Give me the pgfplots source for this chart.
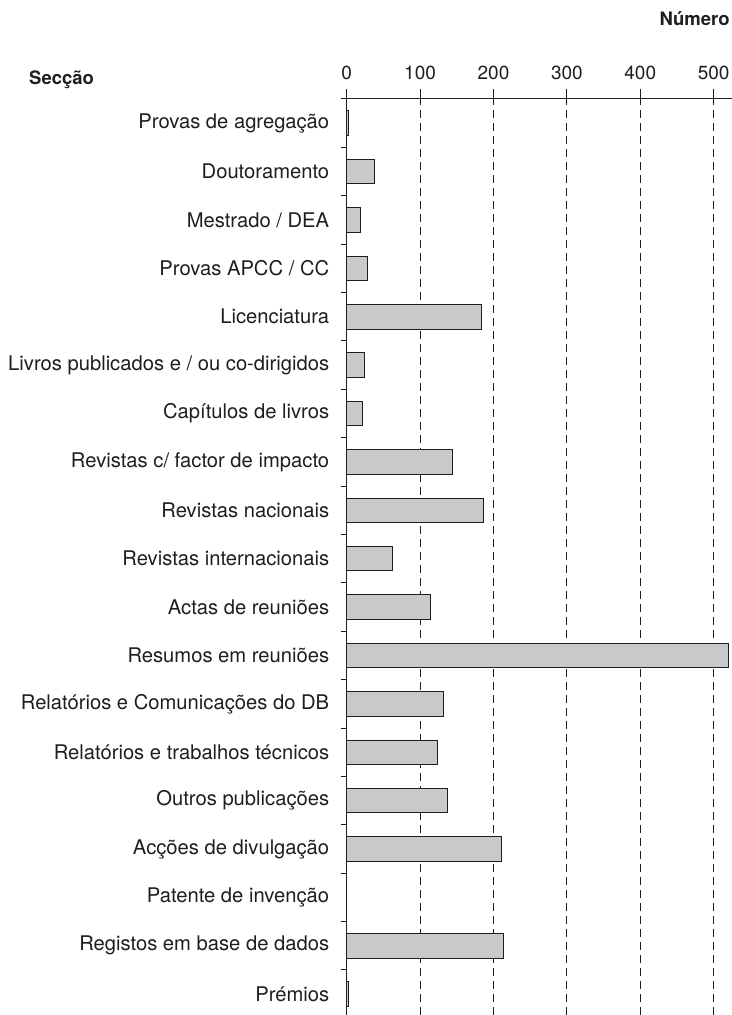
\documentclass[border=0pt]{standalone}
\usepackage{pgfplots}
\pgfplotsset{compat=1.18}
\usepackage{fontspec}
\setmainfont{TeX Gyre Heros}
\definecolor{barfill}{HTML}{C8C9CB}
\definecolor{ink}{HTML}{1E1E1E}
\begin{document}
\begin{tikzpicture}
\begin{axis}[
  scale only axis,
  width=385.3bp, height=916bp,
  xmin=0, xmax=525,
  ymin=0.57, ymax=19.5,
  axis x line*=top, axis y line*=left,
  axis line style={ink, line width=1bp},
  xtick={0,100,...,500},
  tick align=outside,
  major tick length=10bp,
  minor tick length=6bp,
  tick style={ink, line width=1bp},
  major y tick style={draw=none},
  xmajorgrids=true,
  major grid style={ink, line width=0.9bp, dash pattern=on 8bp off 5bp},
  ytick={1,...,19},
  minor ytick={1.5,2.5,...,19.5},
  yticklabels={Prémios,Registos em base de dados,Patente de invenção,Acções de divulgação,Outros publicações,Relatórios e trabalhos técnicos,Relatórios e Comunicações do DB,Resumos em reuniões,Actas de reuniões,Revistas internacionais,Revistas nacionais,Revistas c/ factor de impacto,Capítulos de livros,Livros publicados e / ou co-dirigidos,Licenciatura,Provas APCC / CC,Mestrado / DEA,Doutoramento,Provas de agregação},
  yticklabel style={font=\fontsize{20.2bp}{24bp}\selectfont, text=ink, xshift=-4bp},
  xticklabel style={font=\fontsize{19bp}{22bp}\selectfont, text=ink, yshift=6bp},
  /pgf/number format/assume math mode=true,
  clip=false,
  xbar, bar width=24.5bp,
]
\addplot[draw=ink, fill=barfill, line width=0.9bp] coordinates {
  (3,19) (38,18) (19,17) (28,16) (184,15) (24,14) (21,13) (144,12) (186,11) (63,10)
  (114,9) (520,8) (132,7) (123,6) (137,5) (211,4) (0,3) (213,2) (3,1)
};
\coordinate (TL) at (rel axis cs:0,1);
\node[anchor=east, font=\bfseries\fontsize{18.5bp}{21bp}\selectfont, text=ink] at ([xshift=5bp,yshift=80bp]rel axis cs:0.99,1) {Número};
\node[anchor=west, font=\bfseries\fontsize{18.5bp}{21bp}\selectfont, text=ink] at ([xshift=-321bp,yshift=19bp]rel axis cs:0,1) {Secção};
\end{axis}
\pgfresetboundingbox
\path ([shift={(-346.7bp,99bp)}]TL) rectangle ++(732bp,-1015bp);
\end{tikzpicture}
\end{document}
